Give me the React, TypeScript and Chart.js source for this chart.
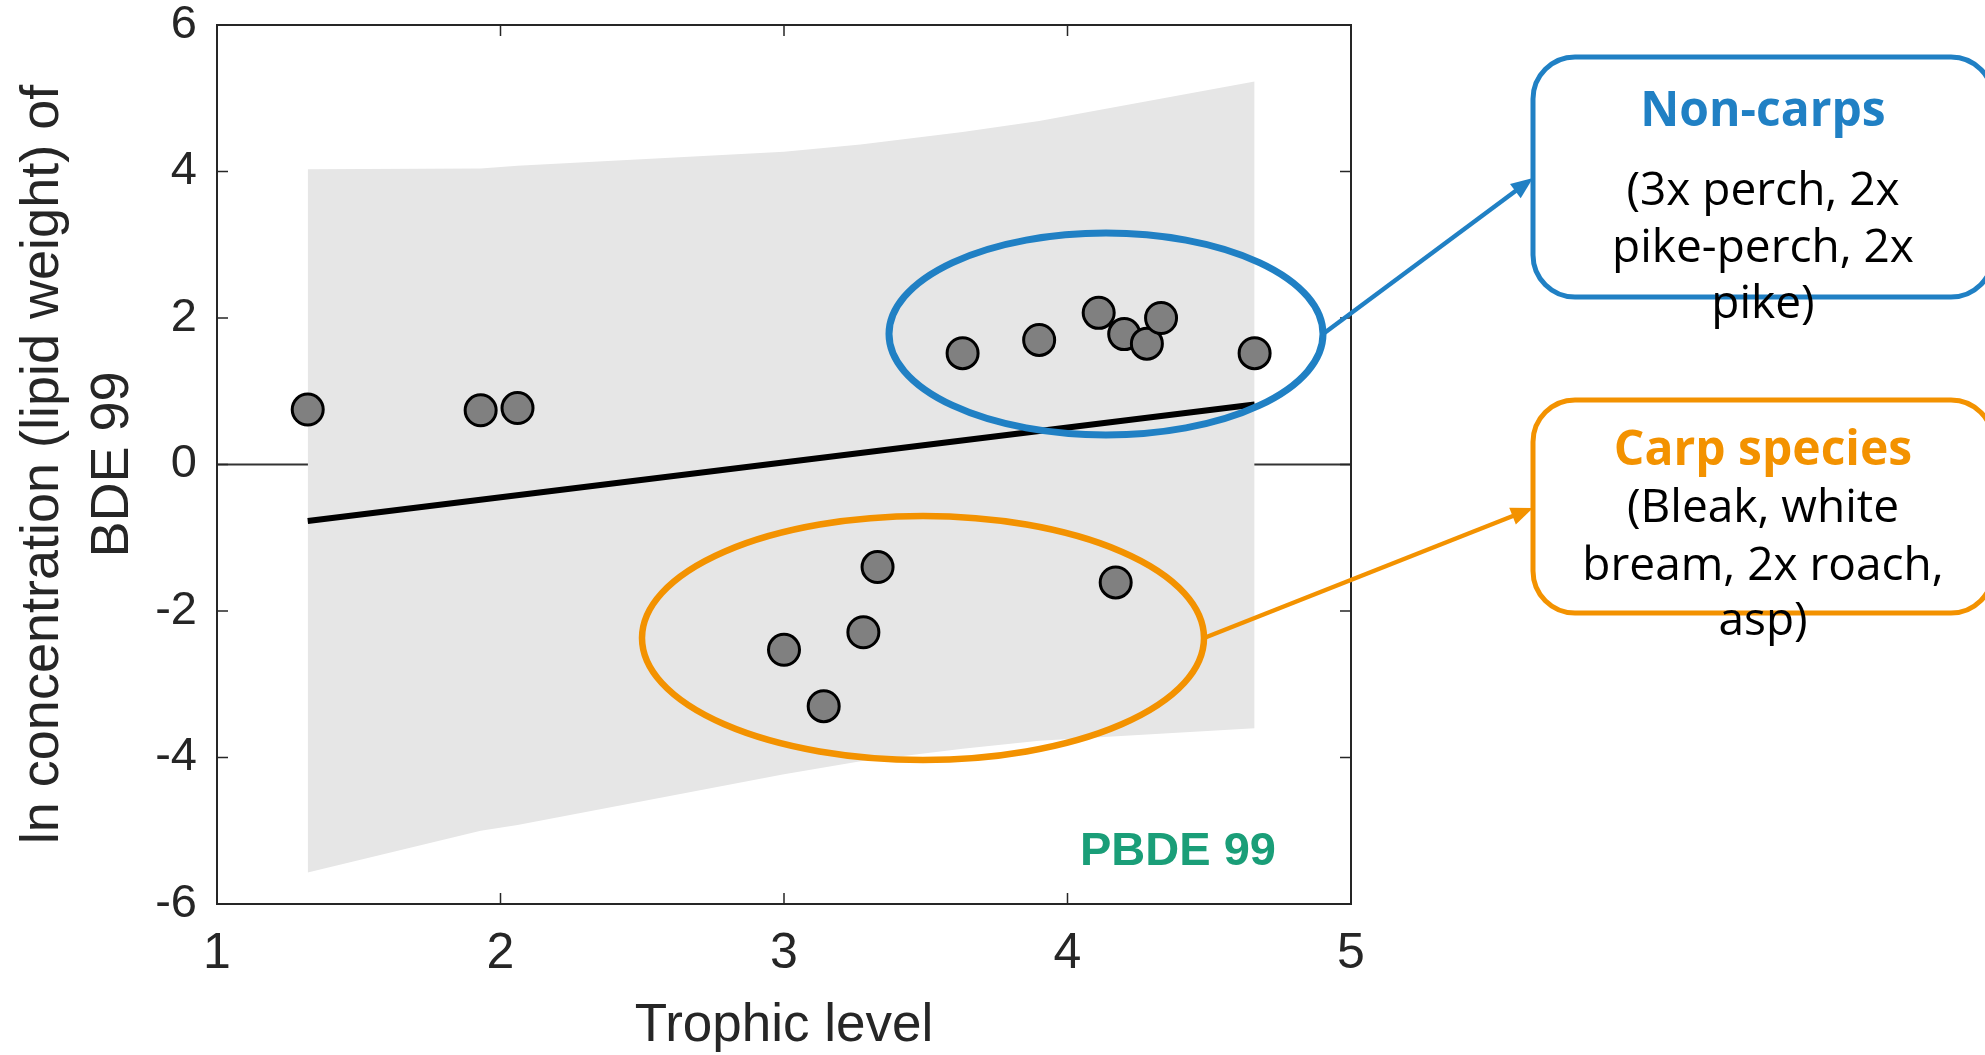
import React, { useEffect, useRef } from "react";
import { Chart, registerables } from "chart.js";

Chart.register(...registerables);

// ---- Data ----
const trophicLevel = [1.32, 1.93, 2.06, 3.63, 3.9, 4.11, 4.2, 4.28, 4.33, 4.66, 3.33, 4.17, 3.28, 3.0, 3.14];
const lnConcentration = [0.75, 0.74, 0.77, 1.52, 1.7, 2.07, 1.78, 1.65, 2.0, 1.52, -1.4, -1.61, -2.29, -2.53, -3.3];

const bandX = [1.32, 1.93, 2.06, 3.0, 3.27, 3.63, 3.9, 4.66];
const bandUpper = [4.03, 4.04, 4.08, 4.27, 4.37, 4.54, 4.69, 5.23];
const bandLower = [-5.57, -5.0, -4.92, -4.23, -4.05, -3.88, -3.77, -3.6];

const fitX = [1.32, 4.66];
const fitY = [-0.77, 0.82];

const xTicks = [1, 2, 3, 4, 5];
const yTicks = [-6, -4, -2, 0, 2, 4, 6];

const yTitle = ["ln concentration (lipid weight) of", "BDE 99"];
const xTitle = "Trophic level";
const panelLabel = "PBDE 99";
const nonCarpTitle = "Non-carps";
const nonCarpLines = ["(3x perch, 2x", "pike-perch, 2x", "pike)"];
const carpTitle = "Carp species";
const carpLines = ["(Bleak, white", "bream, 2x roach,", "asp)"];

const BLUE = "#2080c4";
const ORANGE = "#f39200";
const GREEN = "#1a9e78";
const AXIS = "#262626";

function arrow(ctx: CanvasRenderingContext2D, x1: number, y1: number, x2: number, y2: number, color: string) {
  const ang = Math.atan2(y2 - y1, x2 - x1);
  const head = 22;
  const hw = 9;
  ctx.save();
  ctx.strokeStyle = color;
  ctx.fillStyle = color;
  ctx.lineWidth = 4.5;
  ctx.beginPath();
  ctx.moveTo(x1, y1);
  ctx.lineTo(x2 - head * 0.8 * Math.cos(ang), y2 - head * 0.8 * Math.sin(ang));
  ctx.stroke();
  ctx.beginPath();
  ctx.moveTo(x2, y2);
  ctx.lineTo(x2 - head * Math.cos(ang) + hw * Math.sin(ang), y2 - head * Math.sin(ang) - hw * Math.cos(ang));
  ctx.lineTo(x2 - head * Math.cos(ang) - hw * Math.sin(ang), y2 - head * Math.sin(ang) + hw * Math.cos(ang));
  ctx.closePath();
  ctx.fill();
  ctx.restore();
}

const framePlugin = {
  id: "frame",
  beforeDatasetsDraw(chart: any) {
    const { ctx, chartArea, scales } = chart;
    const y0 = scales.y.getPixelForValue(0);
    ctx.save();
    ctx.strokeStyle = "#333333";
    ctx.lineWidth = 2;
    ctx.beginPath();
    ctx.moveTo(chartArea.left, y0);
    ctx.lineTo(chartArea.right, y0);
    ctx.stroke();
    ctx.restore();
  },
  afterDatasetsDraw(chart: any) {
    const { ctx, chartArea, scales } = chart;
    const { left, right, top, bottom } = chartArea;
    ctx.save();
    ctx.strokeStyle = AXIS;
    ctx.lineWidth = 2;
    ctx.strokeRect(left, top, right - left, bottom - top);
    ctx.lineWidth = 1.5;
    const tl = 11;
    ctx.beginPath();
    xTicks.forEach((v) => {
      const px = scales.x.getPixelForValue(v);
      ctx.moveTo(px, bottom);
      ctx.lineTo(px, bottom - tl);
      ctx.moveTo(px, top);
      ctx.lineTo(px, top + tl);
    });
    yTicks.forEach((v) => {
      const py = scales.y.getPixelForValue(v);
      ctx.moveTo(left, py);
      ctx.lineTo(left + tl, py);
      ctx.moveTo(right, py);
      ctx.lineTo(right - tl, py);
    });
    ctx.stroke();
    // panel label
    ctx.fillStyle = GREEN;
    ctx.font = "bold 47px 'Liberation Sans', Arial, sans-serif";
    ctx.textAlign = "left";
    ctx.textBaseline = "alphabetic";
    ctx.fillText(panelLabel, 1080, 865);
    ctx.restore();
  },
  afterDraw(chart: any) {
    const { ctx } = chart;
    ctx.save();
    // ellipses
    ctx.lineWidth = 7;
    ctx.strokeStyle = BLUE;
    ctx.beginPath();
    ctx.ellipse(1106, 334, 217, 101, 0, 0, Math.PI * 2);
    ctx.stroke();
    ctx.strokeStyle = ORANGE;
    ctx.lineWidth = 6.5;
    ctx.beginPath();
    ctx.ellipse(923, 638, 281, 122, 0, 0, Math.PI * 2);
    ctx.stroke();
    // arrows
    arrow(ctx, 1323, 334, 1533, 178, BLUE);
    arrow(ctx, 1204, 638, 1533, 508, ORANGE);
    // boxes
    ctx.lineWidth = 5;
    ctx.strokeStyle = BLUE;
    ctx.beginPath();
    (ctx as any).roundRect(1533, 57, 460, 240, 42);
    ctx.stroke();
    ctx.strokeStyle = ORANGE;
    ctx.beginPath();
    (ctx as any).roundRect(1533, 400, 460, 213, 42);
    ctx.stroke();
    // texts
    ctx.textAlign = "center";
    ctx.textBaseline = "alphabetic";
    const cx = 1763;
    ctx.font = "bold 48px 'Open Sans', sans-serif";
    ctx.fillStyle = BLUE;
    ctx.fillText(nonCarpTitle, cx, 126);
    ctx.fillStyle = ORANGE;
    ctx.fillText(carpTitle, cx, 465);
    ctx.font = "46px 'Open Sans', sans-serif";
    ctx.fillStyle = "#000000";
    const nb = [205, 262, 318];
    nonCarpLines.forEach((t, i) => ctx.fillText(t, cx, nb[i]));
    const cb = [522, 580, 635];
    carpLines.forEach((t, i) => ctx.fillText(t, cx, cb[i]));
    ctx.restore();
  },
};

export default function App() {
  const ref = useRef<HTMLCanvasElement>(null);
  useEffect(() => {
    if (!ref.current) return;
    const pts = (xs: number[], ys: number[]) => xs.map((x, i) => ({ x, y: ys[i] }));
    const chart = new Chart(ref.current, {
      type: "scatter",
      data: {
        datasets: [
          {
            label: "points",
            data: pts(trophicLevel, lnConcentration),
            pointRadius: 15.5,
            pointHoverRadius: 15.5,
            backgroundColor: "#808080",
            borderColor: "#000000",
            borderWidth: 3,
            order: 0,
          },
          {
            label: "fit",
            data: pts(fitX, fitY),
            showLine: true,
            borderColor: "#000000",
            borderWidth: 6,
            pointRadius: 0,
            fill: false,
            order: 1,
          },
          {
            label: "upper",
            data: pts(bandX, bandUpper),
            showLine: true,
            borderWidth: 0,
            borderColor: "rgba(0,0,0,0)",
            backgroundColor: "#e6e6e6",
            pointRadius: 0,
            fill: "+1",
            order: 2,
          },
          {
            label: "lower",
            data: pts(bandX, bandLower),
            showLine: true,
            borderWidth: 0,
            borderColor: "rgba(0,0,0,0)",
            pointRadius: 0,
            fill: false,
            order: 3,
          },
        ],
      },
      options: {
        animation: false,
        responsive: false,
        events: [],
        layout: { padding: { left: 0, top: 25, right: 634, bottom: 0 } },
        plugins: { legend: { display: false }, tooltip: { enabled: false } },
        scales: {
          x: {
            type: "linear",
            min: 1,
            max: 5,
            grid: { display: false, drawTicks: false },
            border: { display: false },
            ticks: {
              stepSize: 1,
              maxRotation: 0,
              padding: 25,
              color: AXIS,
              font: { family: "'Liberation Sans', Arial, sans-serif", size: 50, lineHeight: 1 },
            },
            title: {
              display: true,
              text: xTitle,
              color: AXIS,
              font: { family: "'Liberation Sans', Arial, sans-serif", size: 53, lineHeight: 1 },
              padding: { top: 0, bottom: 2 },
            },
            afterFit: (s: any) => {
              s.height = 151;
              s.paddingLeft = 0;
              s.paddingRight = 0;
            },
          },
          y: {
            type: "linear",
            min: -6,
            max: 6,
            grid: { display: false, drawTicks: false },
            border: { display: false },
            ticks: {
              stepSize: 2,
              padding: 20,
              color: AXIS,
              font: { family: "'Liberation Sans', Arial, sans-serif", size: 47, lineHeight: 1 },
            },
            title: {
              display: true,
              text: yTitle,
              color: AXIS,
              font: { family: "'Liberation Sans', Arial, sans-serif", size: 54, lineHeight: 1.3 },
              padding: { top: 8, bottom: 0 },
            },
            afterFit: (s: any) => {
              s.width = 217;
              s.paddingTop = 0;
              s.paddingBottom = 0;
            },
          },
        },
      },
      plugins: [framePlugin],
    } as any);
    return () => chart.destroy();
  }, []);
  return (
    <div style={{ position: "absolute", left: 0, top: 0, width: 1985, height: 1055, overflow: "hidden", background: "#fff" }}>
      <canvas ref={ref} width={1985} height={1055} style={{ display: "block" }} />
    </div>
  );
}
